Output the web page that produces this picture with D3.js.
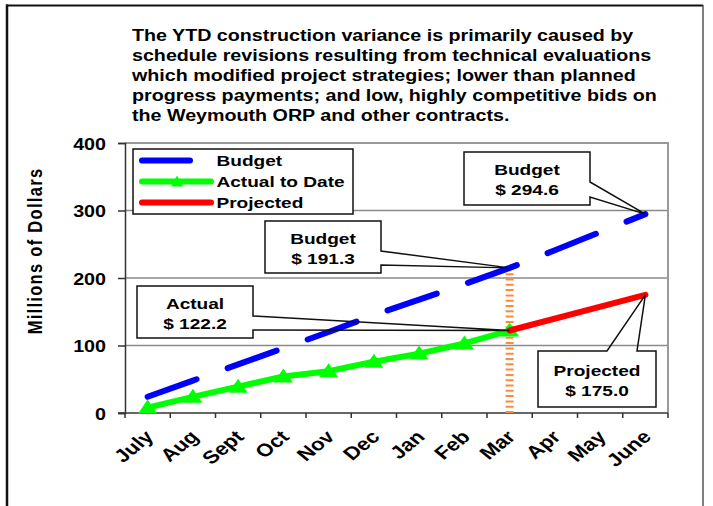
<!DOCTYPE html>
<html>
<head>
<meta charset="utf-8">
<script src="https://cdn.jsdelivr.net/npm/d3@7"></script>
<style>
  body { margin: 0; background: #fff; }
  svg { display: block; font-family: 'Liberation Sans', Arial, sans-serif; font-weight: bold; }
</style>
</head>
<body>
<script>
// DATA
const months = ['July', 'Aug', 'Sept', 'Oct', 'Nov', 'Dec', 'Jan', 'Feb', 'Mar', 'Apr', 'May', 'June'];
const budget = [24, 48, 72, 96, 120, 145, 168, 191, 215, 241, 268, 294.6];
const actual = [8, 24, 39, 54, 62, 76, 88, 103, 122.2];
const projected = [null, null, null, null, null, null, null, null, 122.2, null, null, 175.0];
const yTicks = [0, 100, 200, 300, 400];
const seriesNames = ['Budget', 'Actual to Date', 'Projected'];
const noteLines = [
  'The YTD construction variance is primarily caused by',
  'schedule revisions resulting from technical evaluations',
  'which modified project strategies; lower than planned',
  'progress payments; and low, highly competitive bids on',
  'the Weymouth ORP and other contracts.'
];
const calloutTexts = [
  ['Budget', '$ 294.6'],
  ['Budget', '$ 191.3'],
  ['Actual', '$ 122.2'],
  ['Projected', '$ 175.0']
];
const calloutTargets = [
  { month: 'June', value: budget[11] },
  { month: 'Mar', value: budget[8] },
  { month: 'Mar', value: actual[8] },
  { month: 'June', value: projected[11] }
];
const markerMonth = 'Mar';

// LAYOUT
const svgWidth = 713;
const svgHeight = 506;
const plotLeft = 125;
const plotRight = 668;
const plotTop = 143;
const plotBottom = 413;
const stretch = 1.23; // text in the original is drawn wide

const svg = d3
  .select('body')
  .append('svg')
  .attr('width', svgWidth)
  .attr('height', svgHeight);

function label(parent, x, y, str, size, anchor, rotate) {
  return parent
    .append('text')
    .attr('transform', `translate(${x},${y}) scale(${stretch},1)` + (rotate ? ` rotate(${rotate})` : ''))
    .attr('text-anchor', anchor || 'start')
    .style('font-size', `${size}px`)
    .text(str);
}

// FRAME
svg.append('line').attr('x1', 7).attr('x2', 7).attr('y1', 4.5).attr('y2', 520)
  .attr('stroke', '#111').attr('stroke-width', 2.5);
svg.append('line').attr('x1', 6).attr('x2', 703).attr('y1', 5.5).attr('y2', 5.5)
  .attr('stroke', '#111').attr('stroke-width', 2);
svg.append('line').attr('x1', 703).attr('x2', 703).attr('y1', 5).attr('y2', 520)
  .attr('stroke', '#555').attr('stroke-width', 1.5);

// NOTE
noteLines.forEach((t, i) => label(svg, 132, 40.5 + i * 20.2, t, 16));

// SCALES
const xScale = d3.scaleBand().domain(months).range([plotLeft, plotRight]);
const xc = m => xScale(m) + xScale.bandwidth() / 2;
const yScale = d3.scaleLinear().domain([0, 400]).range([plotBottom, plotTop]);

// GRID + PLOT FRAME
svg.append('g')
  .selectAll('line')
  .data(yTicks.slice(1, -1))
  .enter()
  .append('line')
  .attr('x1', plotLeft).attr('x2', plotRight)
  .attr('y1', d => yScale(d)).attr('y2', d => yScale(d))
  .attr('stroke', '#8a8a8a').attr('stroke-width', 1.6);

svg.append('path')
  .attr('d', `M${plotLeft},${yScale(400)} H${plotRight} V${plotBottom}`)
  .attr('fill', 'none').attr('stroke', '#999').attr('stroke-width', 2);

// Y-AXIS
const yAxis = svg.append('g')
  .attr('transform', `translate(${plotLeft},0)`)
  .call(d3.axisLeft(yScale).tickValues(yTicks).tickSize(7).tickFormat(d3.format('d')));
yAxis.select('.domain').attr('stroke', '#333').attr('stroke-width', 1.5);
yAxis.selectAll('.tick line').attr('stroke', '#333').attr('stroke-width', 1.5);
yAxis.selectAll('.tick text')
  .attr('x', null).attr('dy', null)
  .attr('transform', `translate(-19,6) scale(${stretch},1)`)
  .style('font-size', '16px')
  .style('font-family', null)
  .attr('fill', '#000');

// X-AXIS
const xAxis = svg.append('g')
  .attr('transform', `translate(0,${plotBottom})`)
  .call(d3.axisBottom(xScale).tickSize(0).tickPadding(0));
xAxis.select('.domain').remove();
xAxis.append('line').attr('x1', plotLeft - 7).attr('x2', plotRight)
  .attr('stroke', '#333').attr('stroke-width', 1.5);
xAxis.selectAll('.bound')
  .data(months.map(m => xScale(m)).concat([plotRight]))
  .enter()
  .append('line')
  .attr('x1', d => d).attr('x2', d => d)
  .attr('y1', 0).attr('y2', 5)
  .attr('stroke', '#333').attr('stroke-width', 1.5);
xAxis.selectAll('.tick text')
  .attr('y', null).attr('dy', null)
  .attr('text-anchor', 'end')
  .attr('transform', `translate(7,25) scale(${stretch},1) rotate(-45)`)
  .style('font-size', '18px')
  .style('font-family', null)
  .attr('fill', '#000');

// Y TITLE
label(svg, 42, 251, 'Millions of Dollars', 16.5, 'middle', -90).style('letter-spacing', '1.3px');

// MARKER LINE AT CURRENT MONTH
const mi = months.indexOf(markerMonth);
svg.append('line')
  .attr('x1', xc(markerMonth)).attr('x2', xc(markerMonth))
  .attr('y1', yScale(budget[mi])).attr('y2', plotBottom)
  .attr('stroke', '#ff8a3c').attr('stroke-width', 8)
  .attr('stroke-dasharray', '2,3.3');

// LINES
const line = d3.line().x(d => xc(d.m)).y(d => yScale(d.v));
const toPts = arr => arr.map((v, i) => ({ m: months[i], v })).filter(d => d.v != null);

svg.append('path')
  .datum(toPts(budget))
  .attr('d', line)
  .attr('fill', 'none').attr('stroke', '#0000ff').attr('stroke-width', 6)
  .attr('stroke-linecap', 'round').attr('stroke-dasharray', '52,33');

svg.append('path')
  .datum(toPts(actual))
  .attr('d', line)
  .attr('fill', 'none').attr('stroke', '#00ff00').attr('stroke-width', 6)
  .attr('stroke-linejoin', 'round');

const tri = 'M0,-8 L9.5,6 L-9.5,6 Z';
svg.append('g')
  .selectAll('path')
  .data(toPts(actual))
  .enter()
  .append('path')
  .attr('d', tri)
  .attr('transform', d => `translate(${xc(d.m)},${yScale(d.v)})`)
  .attr('fill', '#00ff00');

svg.append('path')
  .datum(toPts(projected))
  .attr('d', line)
  .attr('fill', 'none').attr('stroke', '#ff0000').attr('stroke-width', 6)
  .attr('stroke-linecap', 'round');

// LEGEND
const legend = svg.append('g');
legend.append('rect')
  .attr('x', 133).attr('y', 149).attr('width', 220).attr('height', 65)
  .attr('fill', '#fff').attr('stroke', '#111').attr('stroke-width', 1.5);
const legendColors = ['#0000ff', '#00ff00', '#ff0000'];
const legendEnds = [190, 211, 211];
seriesNames.forEach((name, i) => {
  const ly = 160.5 + i * 21;
  legend.append('line')
    .attr('x1', 142).attr('x2', legendEnds[i])
    .attr('y1', ly).attr('y2', ly)
    .attr('stroke', legendColors[i]).attr('stroke-width', 6)
    .attr('stroke-linecap', 'round');
  if (i === 1) {
    legend.append('path').attr('d', 'M0,-6 L6,5 L-6,5 Z')
      .attr('transform', `translate(177,${ly})`).attr('fill', '#00ff00');
  }
  label(legend, 216.5, ly + 5.5, name, 15.5);
});

// CALLOUTS  [x0, y0, x1, y1, side, p1, p2]
const calloutBoxes = [
  [464, 152, 590, 205, 'right', 182, 197],
  [265, 221, 381, 273, 'right', 251, 265],
  [137, 286, 253, 338, 'right', 316, 330],
  [538, 351, 656, 407, 'top', 607, 637]
];
calloutBoxes.forEach((b, i) => {
  const [x0, y0, x1, y1, side, p1, p2] = b;
  const tx = xc(calloutTargets[i].month);
  const ty = yScale(calloutTargets[i].value);
  const g = svg.append('g');
  g.append('rect').attr('x', x0).attr('y', y0).attr('width', x1 - x0).attr('height', y1 - y0)
    .attr('fill', '#fff');
  const d = side === 'right'
    ? `M${x0},${y0} H${x1} V${p1} L${tx},${ty} L${x1},${p2} V${y1} H${x0} Z`
    : `M${x0},${y0} H${p1} L${tx},${ty} L${p2},${y0} H${x1} V${y1} H${x0} Z`;
  g.append('path').attr('d', d).attr('fill', 'none')
    .attr('stroke', '#111').attr('stroke-width', 1.5).attr('stroke-linejoin', 'miter');
  const cx = (x0 + x1) / 2;
  const cy = (y0 + y1) / 2;
  label(g, cx, cy - 3.5, calloutTexts[i][0], 15.5, 'middle');
  label(g, cx, cy + 16.5, calloutTexts[i][1], 15.5, 'middle');
});
</script>
</body>
</html>
